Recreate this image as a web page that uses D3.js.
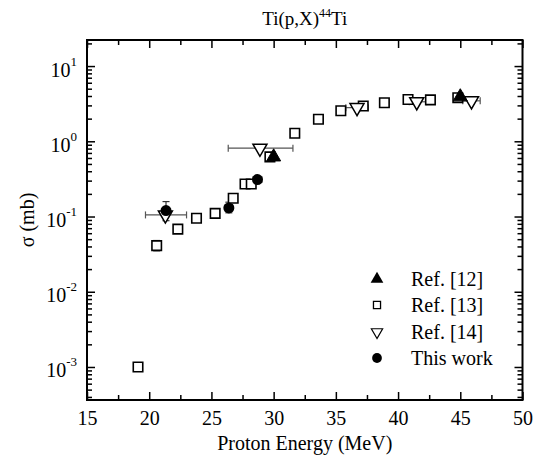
<!DOCTYPE html>
<html><head><meta charset="utf-8">
<script src="https://cdn.jsdelivr.net/npm/d3@7"></script>
<style>
body{margin:0;background:#fff;}
svg, svg text{font-family:"Liberation Serif","Times New Roman",serif;fill:#000;}
</style></head>
<body><svg id="c" width="544" height="458" font-family="Liberation Serif"></svg>
<script>
// ---- data ----
const xDomain = [15, 50];
const yDomain = [3.64e-4, 22.2];
const xMajorTicks = [15, 20, 25, 30, 35, 40, 45, 50];
const xMinorTicks = [17.5, 22.5, 27.5, 32.5, 37.5, 42.5, 47.5];
const yMajorTicks = [1e-3, 1e-2, 1e-1, 1e0, 1e1];
const yExponents = ["-3", "-2", "-1", "0", "1"];

// Ref. [12] filled up-triangles
const ref12E = [30.0, 45.0];
const ref12V = [0.62, 3.9];

// Ref. [13] open squares (with optional vertical error range)
const ref13E = [19.1, 20.6, 22.3, 23.8, 25.3, 26.75, 27.7, 28.2, 29.7, 31.7, 33.6, 35.4, 37.2, 38.9, 40.8, 42.6, 44.8];
const ref13V = [0.001, 0.041, 0.068, 0.095, 0.11, 0.175, 0.27, 0.27, 0.62, 1.28, 1.96, 2.55, 2.95, 3.25, 3.6, 3.55, 3.8];
const ref13Lo = [null, 0.035, 0.060, null, null, null, null, 0.24, null, null, null, null, null, null, null, null, null];
const ref13Hi = [null, 0.048, 0.077, null, null, null, null, 0.30, null, null, null, null, null, null, null, null, null];

// Ref. [14] open down-triangles with horizontal energy ranges
const ref14E = [21.3, 28.9, 36.7, 41.5, 45.9];
const ref14V = [0.105, 0.81, 2.8, 3.35, 3.45];
const ref14ELo = [19.7, 26.35, 35.8, 40.9, 45.2];
const ref14EHi = [23.0, 31.55, 37.6, 42.3, 46.6];

// This work filled circles
const thisE = [21.35, 26.4, 28.7];
const thisV = [0.12, 0.13, 0.31];
const thisVLo = [0.088, 0.112, 0.285];
const thisVHi = [0.158, 0.155, 0.335];
const thisELo = [21.35, 26.1, 28.35];
const thisEHi = [21.35, 26.7, 29.05];

const legendLabels = ["Ref. [12]", "Ref. [13]", "Ref. [14]", "This work"];

// ---- drawing ----
const svg = d3.select("#c");
const FF = "Liberation Serif";
const L = 87, R = 522.5, T = 40, B = 400;
const x = d3.scaleLinear(xDomain, [L, R]);
const y = d3.scaleLog(yDomain, [B, T]);

const yMinor = [];
for (let e = -4; e <= 1; e++) for (let m = 2; m <= 9; m++) {
  const v = m * Math.pow(10, e);
  if (v > yDomain[0] && v < yDomain[1]) yMinor.push(v);
}

const FS = 20;
function styleAxis(g) {
  g.attr("font-family", FF);
  g.select(".domain").remove();
  g.selectAll(".tick line").attr("stroke", "#000").attr("stroke-width", 1.5);
  g.selectAll(".tick text").attr("font-size", FS).attr("font-family", FF);
}

// bottom
svg.append("g").attr("transform", `translate(0,${B})`)
  .call(d3.axisBottom(x).tickValues(xMajorTicks).tickSize(-8).tickPadding(11).tickFormat(d3.format("d")))
  .call(styleAxis);
svg.append("g").attr("transform", `translate(0,${B})`)
  .call(d3.axisBottom(x).tickValues(xMinorTicks).tickSize(-5).tickFormat(""))
  .call(styleAxis);
// top
svg.append("g").attr("transform", `translate(0,${T})`)
  .call(d3.axisTop(x).tickValues(xMajorTicks).tickSize(-8).tickFormat(""))
  .call(styleAxis);
svg.append("g").attr("transform", `translate(0,${T})`)
  .call(d3.axisTop(x).tickValues(xMinorTicks).tickSize(-5).tickFormat(""))
  .call(styleAxis);
// left
const gl = svg.append("g").attr("transform", `translate(${L},0)`)
  .call(d3.axisLeft(y).tickValues(yMajorTicks).tickSize(-8).tickPadding(10).tickFormat(""))
  .call(styleAxis);
gl.selectAll(".tick text").each(function(d, i) {
  const t = d3.select(this).text("").attr("dy", "0.5em");
  t.append("tspan").text("10");
  t.append("tspan").attr("font-size", 13).attr("dy", "-0.85em").text(yExponents[i]);
});
svg.append("g").attr("transform", `translate(${L},0)`)
  .call(d3.axisLeft(y).tickValues(yMinor).tickSize(-5).tickFormat(""))
  .call(styleAxis);
// right
svg.append("g").attr("transform", `translate(${R},0)`)
  .call(d3.axisRight(y).tickValues(yMajorTicks).tickSize(-8).tickFormat(""))
  .call(styleAxis);
svg.append("g").attr("transform", `translate(${R},0)`)
  .call(d3.axisRight(y).tickValues(yMinor).tickSize(-5).tickFormat(""))
  .call(styleAxis);

// frame
svg.append("rect").attr("x", L).attr("y", T).attr("width", R - L).attr("height", B - T)
  .attr("fill", "none").attr("stroke", "#000").attr("stroke-width", 2);

// titles
const title = svg.append("text").attr("x", (L + R) / 2).attr("y", 25).attr("text-anchor", "middle")
  .attr("font-size", 19).attr("font-family", FF);
title.append("tspan").text("Ti(p,X)");
title.append("tspan").attr("font-size", 12).attr("dy", -8).text("44");
title.append("tspan").attr("dy", 8).text("Ti");

svg.append("text").attr("x", (L + R) / 2).attr("y", 450).attr("text-anchor", "middle")
  .attr("font-size", FS).attr("font-family", FF).text("Proton Energy (MeV)");
svg.append("text").attr("transform", `translate(34,${(T + B) / 2}) rotate(-90)`)
  .attr("text-anchor", "middle").attr("font-size", FS).attr("font-family", FF).text("σ (mb)");

// markers
const plot = svg.append("g");
const ebColor = "#333";
const cap = 3.5;

function vbar(g, ex, lo, hi) {
  g.append("line").attr("x1", x(ex)).attr("x2", x(ex)).attr("y1", y(lo)).attr("y2", y(hi)).attr("stroke", ebColor).attr("stroke-width", 1.2);
  [lo, hi].forEach(v => g.append("line").attr("x1", x(ex) - cap).attr("x2", x(ex) + cap).attr("y1", y(v)).attr("y2", y(v)).attr("stroke", ebColor).attr("stroke-width", 1.2));
}
function hbar(g, lo, hi, v) {
  g.append("line").attr("x1", x(lo)).attr("x2", x(hi)).attr("y1", y(v)).attr("y2", y(v)).attr("stroke", "#555").attr("stroke-width", 1.2);
  [lo, hi].forEach(e => g.append("line").attr("x1", x(e)).attr("x2", x(e)).attr("y1", y(v) - cap).attr("y2", y(v) + cap).attr("stroke", "#555").attr("stroke-width", 1.2));
}

const sqSym = d3.symbol().type(d3.symbolSquare).size(90);
const triUp = d3.symbol().type(d3.symbolTriangle).size(85);
const triDown = d3.symbol().type(d3.symbolTriangle).size(85);
const circ = d3.symbol().type(d3.symbolCircle).size(95);

// error bars first
ref13E.forEach((e, i) => { if (ref13Lo[i] != null) vbar(plot, e, ref13Lo[i], ref13Hi[i]); });
ref14E.forEach((e, i) => hbar(plot, ref14ELo[i], ref14EHi[i], ref14V[i]));
thisE.forEach((e, i) => {
  vbar(plot, e, thisVLo[i], thisVHi[i]);
  if (thisEHi[i] > thisELo[i]) hbar(plot, thisELo[i], thisEHi[i], thisV[i]);
});

// squares
plot.selectAll(".sq").data(ref13E).join("path").attr("class", "sq")
  .attr("d", sqSym).attr("transform", (d, i) => `translate(${x(d)},${y(ref13V[i])})`)
  .attr("fill", "#fff").attr("stroke", "#000").attr("stroke-width", 1.6);
// down triangles
plot.selectAll(".td").data(ref14E).join("path").attr("class", "td")
  .attr("d", triDown).attr("transform", (d, i) => `translate(${x(d)},${y(ref14V[i])}) rotate(180)`)
  .attr("fill", "#fff").attr("stroke", "#000").attr("stroke-width", 1.5);
// filled up triangles
plot.selectAll(".tu").data(ref12E).join("path").attr("class", "tu")
  .attr("d", triUp).attr("transform", (d, i) => `translate(${x(d)},${y(ref12V[i])})`)
  .attr("fill", "#000").attr("stroke", "#000");
// circles
plot.selectAll(".ci").data(thisE).join("path").attr("class", "ci")
  .attr("d", circ).attr("transform", (d, i) => `translate(${x(d)},${y(thisV[i])})`)
  .attr("fill", "#000");

// legend
const lg = svg.append("g");
const legY = [279, 305, 332, 358];
const legX = 377;
lg.append("path").attr("d", d3.symbol().type(d3.symbolTriangle).size(70)).attr("transform", `translate(${legX},${legY[0]})`).attr("fill", "#000");
lg.append("path").attr("d", d3.symbol().type(d3.symbolSquare).size(50)).attr("transform", `translate(${legX},${legY[1]})`).attr("fill", "#fff").attr("stroke", "#000").attr("stroke-width", 1.3);
lg.append("path").attr("d", d3.symbol().type(d3.symbolTriangle).size(55)).attr("transform", `translate(${legX},${legY[2]}) rotate(180)`).attr("fill", "#fff").attr("stroke", "#000").attr("stroke-width", 1.2);
lg.append("path").attr("d", d3.symbol().type(d3.symbolCircle).size(75)).attr("transform", `translate(${legX},${legY[3]})`).attr("fill", "#000");
legendLabels.forEach((t, i) => lg.append("text").attr("x", 411).attr("y", legY[i]).attr("dy", "0.35em")
  .attr("font-size", FS).attr("font-family", FF).text(t));
</script></body></html>
